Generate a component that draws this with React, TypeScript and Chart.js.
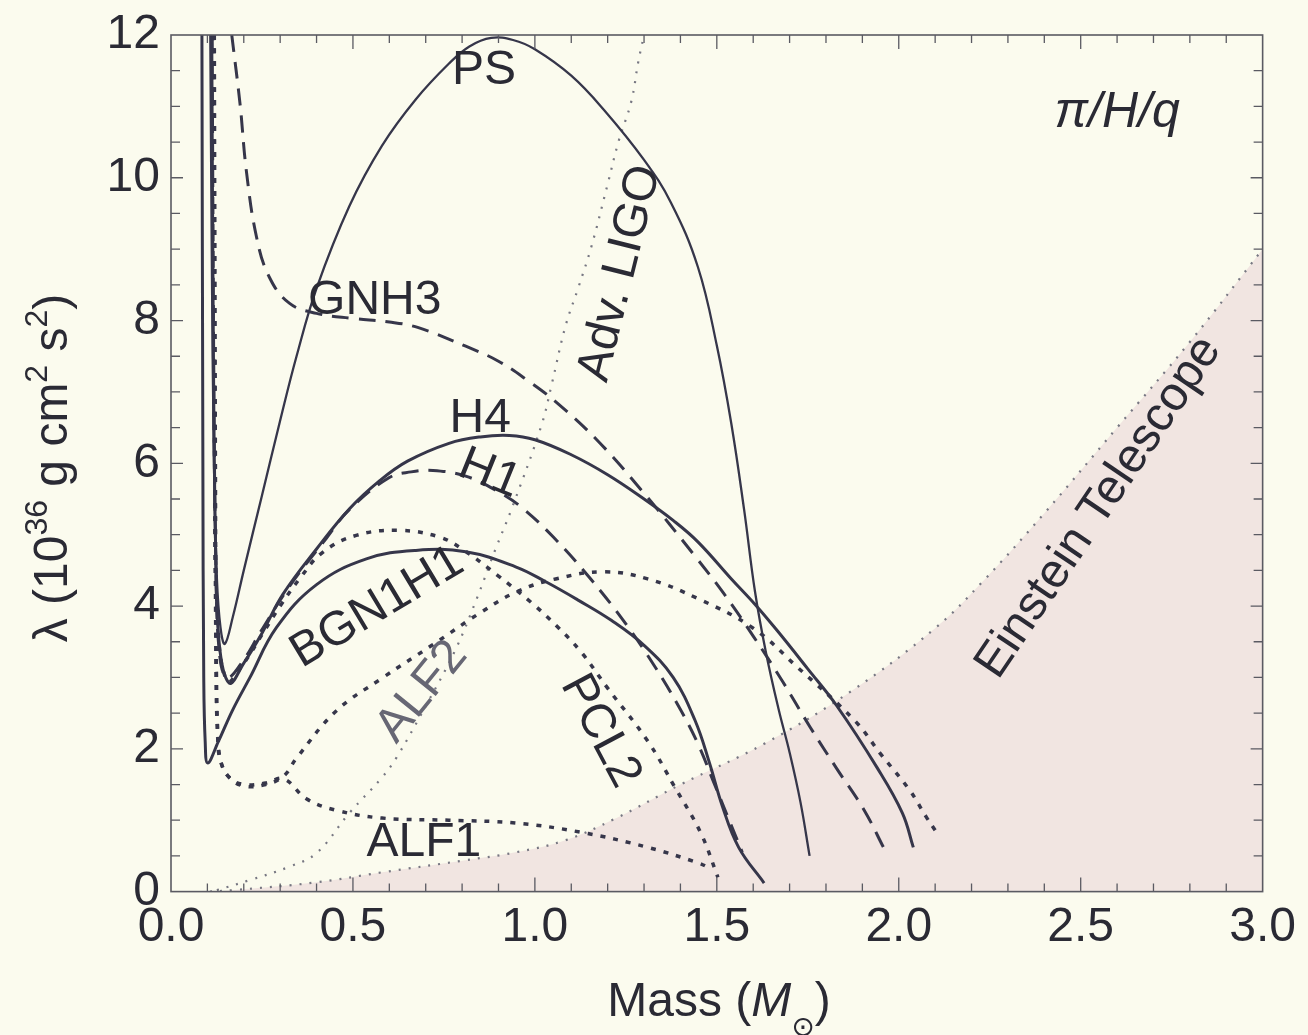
import React, { useEffect, useRef } from "react";
import { Chart, registerables } from "chart.js";

Chart.register(...registerables);

type Pt = [number, number];

// Mass (M_sun) vs tidal deformability lambda (10^36 g cm^2 s^2), one list per equation of state
const PS: Pt[] = [
  [0.108, 12], [0.112, 9], [0.118, 6], [0.126, 4.4], [0.136, 3.7], [0.148, 3.47], [0.17, 3.85],
  [0.2, 4.5], [0.25, 5.55], [0.3, 6.6], [0.345, 7.5], [0.4, 8.45], [0.49, 9.6], [0.58, 10.45],
  [0.673, 11.1], [0.764, 11.6], [0.82, 11.84], [0.88, 11.96], [0.94, 11.93], [1.0, 11.8], [1.1, 11.43],
  [1.19, 10.95], [1.3, 10.25], [1.374, 9.65], [1.448, 8.75], [1.5, 7.65], [1.54, 6.55], [1.575, 5.35],
  [1.605, 4.2], [1.635, 3.35], [1.67, 2.55], [1.7, 1.95], [1.73, 1.25], [1.755, 0.5],
];

const H4: Pt[] = [
  [0.112, 12], [0.116, 8], [0.122, 5], [0.132, 3.5], [0.16, 2.92], [0.2, 3.2], [0.25, 3.62],
  [0.307, 4.16], [0.4, 4.8], [0.49, 5.36], [0.572, 5.75], [0.65, 6.03], [0.764, 6.28], [0.85, 6.37],
  [0.93, 6.39], [1.0, 6.33], [1.1, 6.12], [1.2, 5.84], [1.3, 5.5], [1.38, 5.2], [1.448, 4.9],
  [1.54, 4.38], [1.604, 4.03], [1.667, 3.65], [1.75, 3.12], [1.83, 2.6], [1.94, 1.74], [2.01, 1.1],
  [2.04, 0.62],
];

const BGN1H1: Pt[] = [
  [0.085, 12], [0.0876, 6], [0.09, 3], [0.094, 2.1], [0.101, 1.8], [0.13, 2.1], [0.17, 2.55],
  [0.216, 2.99], [0.29, 3.7], [0.4, 4.3], [0.537, 4.66], [0.673, 4.78], [0.81, 4.76], [0.947, 4.55],
  [1.03, 4.34], [1.12, 4.08], [1.21, 3.8], [1.3, 3.45], [1.38, 3.0], [1.44, 2.4], [1.48, 1.8],
  [1.515, 1.2], [1.56, 0.62], [1.63, 0.12],
];

const GNH3: Pt[] = [
  [0.167, 12], [0.19, 11.02], [0.207, 10.1], [0.235, 9.17], [0.27, 8.61], [0.326, 8.24], [0.4, 8.1],
  [0.5, 8.03], [0.6, 7.98], [0.68, 7.9], [0.81, 7.64], [0.9, 7.43], [0.983, 7.15], [1.06, 6.85],
  [1.17, 6.33], [1.3, 5.58], [1.44, 4.7], [1.52, 4.17], [1.6, 3.58], [1.68, 2.95], [1.757, 2.3],
  [1.83, 1.72], [1.905, 1.14], [1.96, 0.6],
];

const H1: Pt[] = [
  [0.113, 12], [0.118, 7], [0.124, 4.5], [0.134, 3.3], [0.155, 3.0], [0.2, 3.25], [0.244, 3.62],
  [0.326, 4.28], [0.427, 4.95], [0.49, 5.35], [0.6, 5.8], [0.66, 5.88], [0.72, 5.9], [0.81, 5.82],
  [0.9, 5.6], [0.964, 5.38], [1.05, 4.97], [1.15, 4.4], [1.25, 3.75], [1.33, 3.15], [1.4, 2.55],
  [1.45, 2.05], [1.49, 1.55], [1.53, 1.05], [1.57, 0.55],
];

const PCL2: Pt[] = [
  [0.114, 12], [0.12, 6], [0.128, 3.8], [0.155, 2.95], [0.2, 3.2], [0.25, 3.6], [0.3, 4.0],
  [0.353, 4.38], [0.416, 4.75], [0.509, 4.99], [0.627, 5.06], [0.736, 4.97], [0.8, 4.8], [0.9, 4.42],
  [0.99, 4.05], [1.06, 3.72], [1.128, 3.35], [1.2, 2.85], [1.31, 2.11], [1.385, 1.46], [1.456, 0.82],
  [1.503, 0.2],
];

const ALF2: Pt[] = [
  [0.118, 12], [0.121, 6], [0.124, 3], [0.128, 2.2], [0.135, 1.85], [0.16, 1.6], [0.2, 1.48],
  [0.26, 1.5], [0.31, 1.62], [0.345, 1.87], [0.454, 2.53], [0.58, 2.99], [0.717, 3.45], [0.854, 3.92],
  [0.95, 4.2], [1.057, 4.38], [1.19, 4.48], [1.31, 4.38], [1.45, 4.1], [1.6, 3.69], [1.72, 3.15],
  [1.88, 2.39], [1.95, 1.93], [2.03, 1.42], [2.075, 1.05], [2.1, 0.86],
];

const ALF1: Pt[] = [
  [0.119, 12], [0.122, 6], [0.125, 3], [0.13, 2.1], [0.138, 1.8], [0.16, 1.6], [0.2, 1.5],
  [0.26, 1.52], [0.31, 1.58], [0.372, 1.3], [0.454, 1.14], [0.58, 1.03], [0.764, 1.0], [0.947, 0.96],
  [1.128, 0.83], [1.31, 0.62], [1.45, 0.4], [1.48, 0.33],
];

// detector sensitivity limits
const ADV_LIGO: Pt[] = [
  [0.126, 0.02], [0.216, 0.16], [0.326, 0.35], [0.4, 0.54], [0.49, 1.1], [0.58, 1.6], [0.62, 1.88],
  [0.7, 2.6], [0.78, 3.37], [0.84, 4.1], [0.892, 4.8], [0.936, 5.36], [1.018, 6.53], [1.046, 7.1],
  [1.084, 7.92], [1.12, 8.47], [1.155, 9.03], [1.2, 9.91], [1.23, 10.51], [1.265, 11.07],
  [1.284, 11.62], [1.3, 12],
];

const EINSTEIN: Pt[] = [
  [0.107, 0.0], [0.17, 0.02], [0.4, 0.13], [0.58, 0.27], [0.81, 0.44], [0.947, 0.55], [1.084, 0.72],
  [1.22, 1.02], [1.4, 1.5], [1.63, 2.07], [1.87, 2.81], [2.1, 3.69], [2.23, 4.34], [2.4, 5.3],
  [2.6, 6.5], [2.8, 7.7], [3.0, 9.0],
];

const X_TICKS = [0, 0.5, 1, 1.5, 2, 2.5, 3];
const Y_TICKS = [0, 2, 4, 6, 8, 10, 12];

const CURVE_LABELS = [
  { text: "PS", x: 0.86, y: 11.5, rot: 0 },
  { text: "GNH3", x: 0.56, y: 8.27, rot: 0 },
  { text: "H4", x: 0.85, y: 6.62, rot: 0 },
  { text: "H1", x: 0.875, y: 5.85, rot: 22 },
  { text: "BGN1H1", x: 0.567, y: 3.98, rot: -31 },
  { text: "ALF2", x: 0.69, y: 2.8, rot: -51, muted: true },
  { text: "PCL2", x: 1.18, y: 2.25, rot: 62 },
  { text: "ALF1", x: 0.695, y: 0.68, rot: 0 },
  { text: "Adv. LIGO", x: 1.235, y: 8.66, rot: -76 },
  { text: "Einstein Telescope", x: 2.55, y: 5.38, rot: -56 },
];

const FONT = "'Liberation Sans', Arial, Helvetica, 'DejaVu Sans', sans-serif";
const INK = "#2a2a34";
const LINE = "#36364a";
const PAPER = "#fbfbee";
const SHADE = "#f1e5e1";

const STYLES: Record<string, { dash: number[]; width: number; color: string }> = {
  solid: { dash: [], width: 3, color: LINE },
  thin: { dash: [], width: 2.3, color: LINE },
  dashed: { dash: [17, 10], width: 3, color: LINE },
  dotted: { dash: [5, 8], width: 3.5, color: LINE },
  fine: { dash: [2, 8], width: 2.2, color: "#777782" },
};

const SERIES: { name: string; pts: Pt[]; style: string }[] = [
  { name: "PS", pts: PS, style: "thin" },
  { name: "H4", pts: H4, style: "solid" },
  { name: "BGN1H1", pts: BGN1H1, style: "solid" },
  { name: "GNH3", pts: GNH3, style: "dashed" },
  { name: "H1", pts: H1, style: "dashed" },
  { name: "PCL2", pts: PCL2, style: "dotted" },
  { name: "ALF2", pts: ALF2, style: "dotted" },
  { name: "ALF1", pts: ALF1, style: "dotted" },
  { name: "Adv. LIGO", pts: ADV_LIGO, style: "fine" },
];

const paperPlugin = {
  id: "paper",
  beforeDraw(chart: any) {
    const { ctx, width, height } = chart;
    ctx.save();
    ctx.fillStyle = PAPER;
    ctx.fillRect(0, 0, width, height);
    ctx.restore();
  },
};

const framePlugin = {
  id: "frame",
  afterDatasetsDraw(chart: any) {
    const { ctx, chartArea: a, scales } = chart;
    const sx = scales.x;
    const sy = scales.y;
    ctx.save();
    ctx.strokeStyle = "#5a5a62";
    ctx.lineWidth = 1.6;
    ctx.strokeRect(a.left, a.top, a.right - a.left, a.bottom - a.top);
    ctx.lineWidth = 1.3;
    ctx.beginPath();
    for (let i = 1; i < 30; i++) {
      const px = sx.getPixelForValue(i / 10);
      const len = i % 5 === 0 ? 14 : 8;
      ctx.moveTo(px, a.bottom);
      ctx.lineTo(px, a.bottom - len);
      ctx.moveTo(px, a.top);
      ctx.lineTo(px, a.top + len);
    }
    for (let i = 1; i < 24; i++) {
      const py = sy.getPixelForValue(i / 2);
      const len = i % 4 === 0 ? 12 : 9;
      ctx.moveTo(a.left, py);
      ctx.lineTo(a.left + len, py);
      ctx.moveTo(a.right, py);
      ctx.lineTo(a.right - len, py);
    }
    ctx.stroke();
    ctx.restore();
  },
};

const labelPlugin = {
  id: "curveLabels",
  afterDatasetsDraw(chart: any) {
    const { ctx, scales } = chart;
    ctx.save();
    ctx.textAlign = "center";
    ctx.textBaseline = "middle";
    ctx.font = `48px ${FONT}`;
    for (const l of CURVE_LABELS) {
      const px = scales.x.getPixelForValue(l.x);
      const py = scales.y.getPixelForValue(l.y);
      ctx.save();
      ctx.translate(px, py);
      ctx.rotate((l.rot * Math.PI) / 180);
      ctx.fillStyle = (l as any).muted ? "#676774" : INK;
      ctx.fillText(l.text, 0, 0);
      ctx.restore();
    }
    // model tag in the upper right
    ctx.font = `italic 50px ${FONT}`;
    ctx.fillStyle = INK;
    ctx.fillText("\u03c0/H/q", scales.x.getPixelForValue(2.6), scales.y.getPixelForValue(10.9));
    ctx.restore();
  },
};

type Run = { t: string; size: number; dy: number; italic?: boolean };

function drawRuns(ctx: CanvasRenderingContext2D, runs: Run[], cx: number, baseY: number) {
  const widths = runs.map((r) => {
    ctx.font = `${r.italic ? "italic " : ""}${r.size}px ${FONT}`;
    return ctx.measureText(r.t).width;
  });
  const total = widths.reduce((s, w) => s + w, 0);
  let x = cx - total / 2;
  ctx.textAlign = "left";
  ctx.textBaseline = "alphabetic";
  runs.forEach((r, i) => {
    ctx.font = `${r.italic ? "italic " : ""}${r.size}px ${FONT}`;
    ctx.fillText(r.t, x, baseY + r.dy);
    x += widths[i];
  });
}

const titlePlugin = {
  id: "axisTitles",
  afterDraw(chart: any) {
    const { ctx } = chart;
    ctx.save();
    ctx.fillStyle = INK;
    drawRuns(
      ctx,
      [
        { t: "Mass (", size: 48, dy: 0 },
        { t: "M", size: 48, dy: 0, italic: true },
        { t: "\u2299", size: 28, dy: 20 },
        { t: ")", size: 48, dy: 0 },
      ],
      719,
      1016
    );
    ctx.translate(67, 468);
    ctx.rotate(-Math.PI / 2);
    drawRuns(
      ctx,
      [
        { t: "\u03bb (10", size: 48, dy: 0 },
        { t: "36", size: 32, dy: -20 },
        { t: " g cm", size: 48, dy: 0 },
        { t: "2", size: 32, dy: -20 },
        { t: " s", size: 48, dy: 0 },
        { t: "2", size: 32, dy: -20 },
        { t: ")", size: 48, dy: 0 },
      ],
      0,
      0
    );
    ctx.restore();
  },
};

export default function App() {
  const ref = useRef<HTMLCanvasElement | null>(null);

  useEffect(() => {
    if (!ref.current) return;
    const toXY = (pts: Pt[]) => pts.map(([x, y]) => ({ x, y }));
    const datasets: any[] = SERIES.map((s) => {
      const st = STYLES[s.style];
      return {
        label: s.name,
        data: toXY(s.pts),
        showLine: true,
        borderColor: st.color,
        borderWidth: st.width,
        borderDash: st.dash,
        borderCapStyle: "butt",
        borderJoinStyle: "round",
        pointRadius: 0,
        tension: 0.4,
        fill: false,
        order: 1,
      };
    });
    datasets.push({
      label: "Einstein Telescope",
      data: toXY(EINSTEIN),
      showLine: true,
      borderColor: "#777782",
      borderWidth: 2.2,
      borderDash: [2, 8],
      pointRadius: 0,
      tension: 0.4,
      fill: "origin",
      backgroundColor: SHADE,
      order: 10,
    });

    const tickFont = { family: FONT, size: 48, lineHeight: 1 };
    const chart = new Chart(ref.current, {
      type: "scatter",
      data: { datasets },
      options: {
        animation: false,
        responsive: false,
        devicePixelRatio: 1,
        layout: { padding: { left: 0, right: 41, top: 30, bottom: 0 } },
        plugins: { legend: { display: false }, tooltip: { enabled: false } },
        scales: {
          x: {
            type: "linear",
            min: 0,
            max: 3,
            grid: { display: false, drawTicks: false },
            border: { display: false },
            afterBuildTicks: (s: any) => {
              s.ticks = X_TICKS.map((v) => ({ value: v }));
            },
            afterFit: (s: any) => {
              s.height = 1035 - 891.6;
            },
            ticks: {
              color: INK,
              font: tickFont,
              padding: 12,
              maxRotation: 0,
              autoSkip: false,
              callback: (v: any) => Number(v).toFixed(1),
            },
          },
          y: {
            type: "linear",
            min: 0,
            max: 12,
            grid: { display: false, drawTicks: false },
            border: { display: false },
            afterBuildTicks: (s: any) => {
              s.ticks = Y_TICKS.map((v) => ({ value: v }));
            },
            afterFit: (s: any) => {
              s.width = 171;
            },
            ticks: {
              color: INK,
              font: tickFont,
              padding: 11,
              autoSkip: false,
              callback: (v: any) => String(v),
            },
          },
        },
      } as any,
      plugins: [paperPlugin, framePlugin, labelPlugin, titlePlugin],
    });
    return () => chart.destroy();
  }, []);

  return (
    <div style={{ position: "fixed", left: 0, top: 0, width: 1308, height: 1035, background: PAPER }}>
      <canvas ref={ref} width={1308} height={1035} style={{ display: "block" }} />
    </div>
  );
}
